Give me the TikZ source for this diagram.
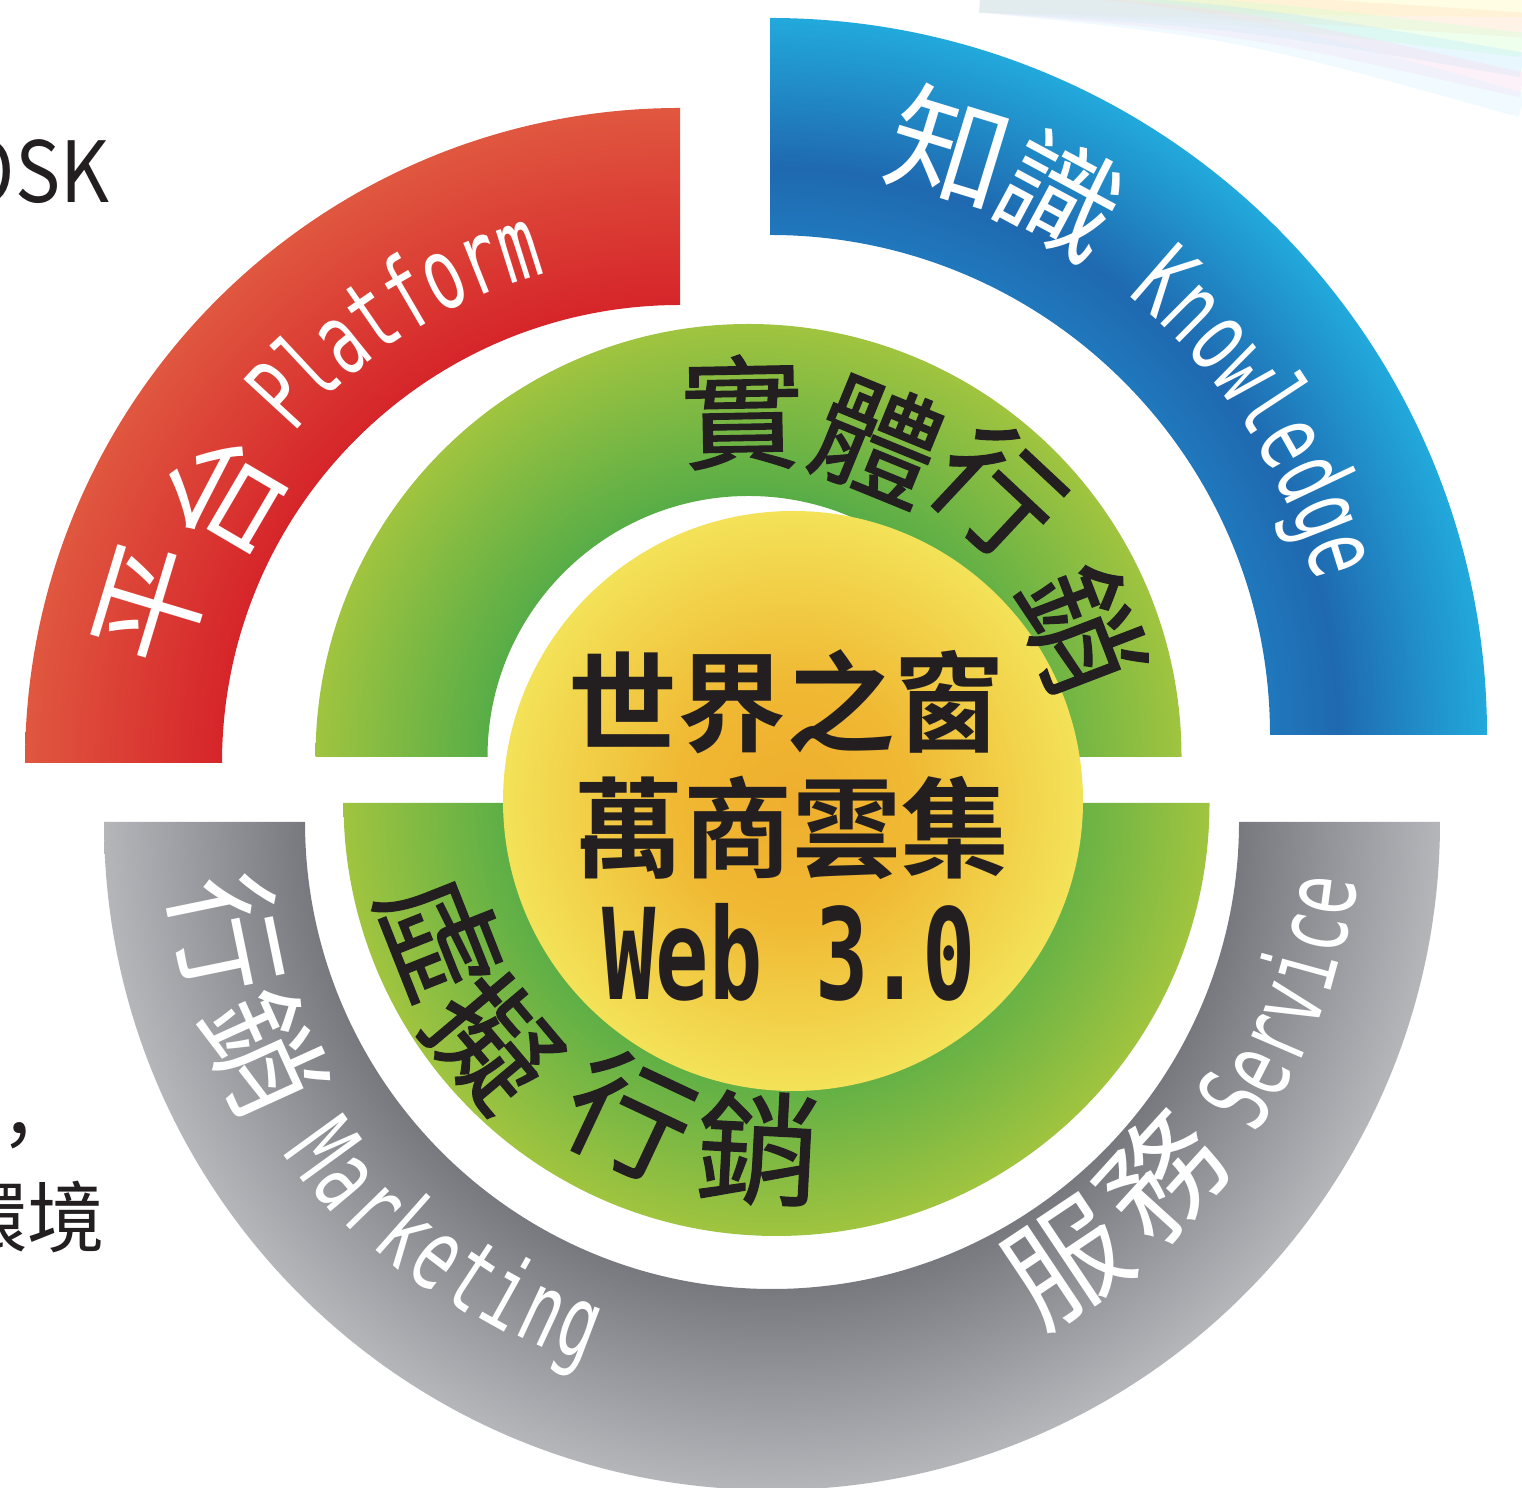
\documentclass[tikz,border=0pt]{standalone}
\usepackage{fontspec}
\usepackage{tikz}
\newfontfamily\cjk{Noto Sans CJK TC}
\newfontfamily\cjkmid[FakeBold=1]{Noto Sans CJK TC}
\newfontfamily\cjkbf{Noto Sans CJK TC Bold}
\newfontfamily\sidelatin[FakeStretch=0.9]{Noto Sans CJK TC}
\newfontfamily\mono[FakeStretch=0.64]{DejaVu Sans Mono}
\newfontfamily\monobf[FakeStretch=0.70]{DejaVu Sans Mono Bold}

\definecolor{inkblack}{HTML}{231F20}
\definecolor{redin}{HTML}{D6252A}
\definecolor{redout}{HTML}{E0573F}
\definecolor{bluein}{HTML}{2078BC}
\definecolor{bluemid}{HTML}{1F69B0}
\definecolor{blueout}{HTML}{22A9DC}
\definecolor{grayin}{HTML}{78797E}
\definecolor{grayout}{HTML}{B4B6BA}
\definecolor{greenin}{HTML}{58AD47}
\definecolor{greenout}{HTML}{A0C43F}
\definecolor{yellowin}{HTML}{EFAE2E}
\definecolor{yellowmid}{HTML}{F0B833}
\definecolor{yellowout}{HTML}{F3E258}

\pgfdeclareradialshading{redring}{\pgfpointorigin}{color(0bp)=(redin); color(17.5bp)=(redin); color(25bp)=(redout); color(50bp)=(redout)}
\pgfdeclareradialshading{bluering}{\pgfpointorigin}{color(0bp)=(bluein); color(17.4bp)=(bluein); color(19.8bp)=(bluemid); color(25bp)=(blueout); color(50bp)=(blueout)}
\pgfdeclareradialshading{grayring}{\pgfpointorigin}{color(0bp)=(grayin); color(17.5bp)=(grayin); color(25bp)=(grayout); color(50bp)=(grayout)}
\pgfdeclareradialshading{greenring}{\pgfpointorigin}{color(0bp)=(greenin); color(15.1bp)=(greenin); color(25bp)=(greenout); color(50bp)=(greenout)}
\pgfdeclareradialshading{yellowdisc}{\pgfpointorigin}{color(0bp)=(yellowin); color(10bp)=(yellowmid); color(25bp)=(yellowout); color(50bp)=(yellowout)}

\tikzset{
  ringcjk/.style={text=white, inner sep=0pt, font=\cjk\fontsize{34}{36}\selectfont},
  ringlatin/.style={text=white, inner sep=0pt, anchor=base, font=\mono\fontsize{28.5}{30}\selectfont},
  greencjk/.style={text=inkblack, inner sep=0pt, font=\cjkmid\fontsize{35}{36}\selectfont},
  centercjk/.style={text=inkblack, inner sep=0pt, font=\cjkbf\fontsize{31}{33}\selectfont},
  centerweb/.style={text=inkblack, inner sep=0pt, anchor=base, font=\monobf\fontsize{36}{38}\selectfont},
  sidetext/.style={text=inkblack, inner sep=0pt, font=\cjk\fontsize{22}{24}\selectfont},
}

\begin{document}
\begin{tikzpicture}
\fill[white] (0,0) rectangle (15.22,14.87);
\useasboundingbox (0,0) rectangle (15.22,14.87);

% streaks, top right
\foreach \c/\dy in {yellow!30/0.05, orange!25/0.25, green!18/0.45, cyan!25/0.65, magenta!15/0.85, cyan!15/1.05}
  \draw[\c, line width=2.5mm, opacity=0.35] (9.8,14.87) .. controls (12.4,{14.87-0.25*\dy}) .. (15.22,{14.87-\dy});

% platform ring
\begin{scope}
\clip (6.80,7.24) ++(90:6.55) arc[start angle=90,end angle=180,radius=6.55] -- ++(1.97,0) arc[start angle=180,end angle=90,radius=4.58] -- cycle;
\shade[shading=redring] (6.80,7.24) circle (6.55);
\end{scope}
% knowledge ring
\begin{scope}
\clip (7.70,7.52) ++(0:7.17) arc[start angle=0,end angle=90,radius=7.17] -- ++(0,-2.17) arc[start angle=90,end angle=0,radius=5.00] -- cycle;
\shade[shading=bluering] (7.70,7.52) circle (7.17);
\end{scope}
% marketing / service ring
\begin{scope}
\clip (7.72,6.65) ++(180:6.68) arc[start angle=180,end angle=360,radius=6.68] -- ++(-2.01,0) arc[start angle=360,end angle=180,radius=4.67] -- cycle;
\shade[shading=grayring] (7.72,6.65) circle (6.68);
\end{scope}
% green halves
\begin{scope}
\clip (7.485,7.30) ++(0:4.33) arc[start angle=0,end angle=180,radius=4.33] -- ++(1.72,0) arc[start angle=180,end angle=0,radius=2.61] -- cycle;
\shade[shading=greenring] (7.485,7.30) circle (4.33);
\end{scope}
\begin{scope}
\clip (7.765,6.84) ++(180:4.33) arc[start angle=180,end angle=360,radius=4.33] -- ++(-1.72,0) arc[start angle=360,end angle=180,radius=2.61] -- cycle;
\shade[shading=greenring] (7.765,6.84) circle (4.33);
\end{scope}
% core
\shade[shading=yellowdisc] (7.93,6.86) circle (2.90);

% ring labels
\begin{scope}[shift={(6.80,7.24)}]
\foreach \ch/\a/\r [count=\i] in {平/163.2/5.50, 台/149.6/5.31}
  \node[ringcjk, rotate=\a-90] (plat\i) at (\a:\r) {\ch};
\foreach \ch [count=\i, evaluate=\i as \a using 139.5-(\i-0.5)*4.27] in {P,l,a,t,f,o,r,m}
  \node[ringlatin, rotate=\a-90] (platl\i) at (\a:5.08) {\ch};
\end{scope}

\begin{scope}[shift={(7.70,7.52)}]
\foreach \ch/\a/\r [count=\i] in {知/73.0/6.15, 識/61.7/6.13}
  \node[ringcjk, rotate=\a-90] (know\i) at (\a:\r) {\ch};
\foreach \ch [count=\i, evaluate=\i as \a using 51.0-(\i-0.5)*3.94] in {K,n,o,w,l,e,d,g,e}
  \node[ringlatin, rotate=\a-90] (knowl\i) at (\a:5.67) {\ch};
\end{scope}

\begin{scope}[shift={(7.72,6.65)}]
\foreach \ch/\a/\r [count=\i] in {行/191.6/5.55, 銷/204.4/5.57}
  \node[ringcjk, rotate=\a+90] (mark\i) at (\a:\r) {\ch};
\foreach \ch [count=\i, evaluate=\i as \a using 213.9+(\i-0.5)*4.15, evaluate=\i as \r using 5.91-0.025*(\i-1)] in {M,a,r,k,e,t,i,n,g}
  \node[ringlatin, rotate=\a+90] (markl\i) at (\a:\r) {\ch};
\foreach \ch/\a/\r [count=\i] in {服/303.8/5.30, 務/317.8/5.26}
  \node[ringcjk, rotate=\a+90] (serv\i) at (\a:\r) {\ch};
\foreach \ch [count=\i, evaluate=\i as \a using 327.0+(\i-0.5)*3.91, evaluate=\i as \r using 5.76+0.02*(\i-1)] in {S,e,r,v,i,c,e}
  \node[ringlatin, rotate=\a+90] (servl\i) at (\a:\r) {\ch};
\end{scope}

\begin{scope}[shift={(7.485,7.30)}]
\foreach \ch/\a/\r [count=\i] in {實/91.1/3.45, 體/67.8/3.42, 行/46.9/3.65, 銷/21.0/3.57}
  \node[greencjk, rotate=\a-90] (real\i) at (\a:\r) {\ch};
\end{scope}
\begin{scope}[shift={(7.765,6.84)}]
\foreach \ch/\a/\r [count=\i] in {虛/201.6/3.60, 擬/220.1/3.70, 行/244.8/3.45, 銷/267.0/3.46}
  \node[greencjk, rotate=\a+90] (virt\i) at (\a:\r) {\ch};
\end{scope}

% centre
\node[centercjk] (world) at (7.86,7.85) {世界之窗};
\node[centercjk] (merchants) at (7.92,6.59) {萬商雲集};
\node[centerweb] (web) at (7.89,4.87) {Web 3.0};

% cut-off side text
\node[sidetext, font=\sidelatin\fontsize{24}{26}\selectfont, anchor=base east] (kiosk) at (1.10,12.84) {OSK};
\node[sidetext] (comma) at (0.19,3.44) {，};
\node[sidetext, anchor=east] (env) at (1.06,2.70) {環境};
\end{tikzpicture}
\end{document}
